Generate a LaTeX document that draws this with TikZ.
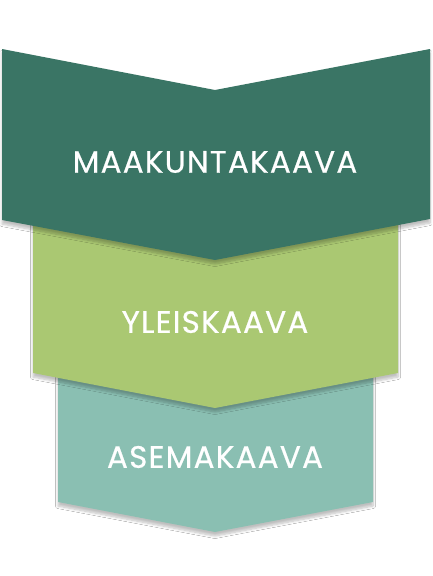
\documentclass[tikz,border=0pt]{standalone}
\usepackage{fontspec}
\setmainfont{Poppins}[LetterSpace=4, FakeBold=0.6]
\usetikzlibrary{shadows.blur}
\begin{document}
\begin{tikzpicture}[x=1pt, y=-1pt,
    chevron/.style={draw=none, blur shadow={shadow xshift=0pt, shadow yshift=-4pt, shadow blur radius=2.5pt, shadow blur steps=6, shadow opacity=25}},
    label/.style={text=white, font=\fontsize{31}{34}\selectfont}]
            \definecolor{clTop}{HTML}{3A7565}
            \definecolor{clMid}{HTML}{AAC872}
            \definecolor{clLow}{HTML}{8ABFB2}
            \useasboundingbox (0,0) rectangle (432,576);
            \fill[white] (0,0) rectangle (432,576);
            \fill[chevron, fill=clLow] (58,340) -- (215,375) -- (373,340) -- (373,502) -- (215,532) -- (58,502) -- cycle;
            \fill[chevron, fill=clMid] (33,180) -- (215,220) -- (398,180) -- (398,373) -- (215,408) -- (33,373) -- cycle;
            \fill[chevron, fill=clTop] (2,49) -- (215,90) -- (430,49) -- (430,219) -- (215,260) -- (2,220) -- cycle;
            \node[label] (maakunta) at (215,162) {MAAKUNTAKAAVA};
            \node[label] (yleis) at (215,322) {YLEISKAAVA};
            \node[label] (asema) at (215,457) {ASEMAKAAVA};
        \end{tikzpicture}
\end{document}
